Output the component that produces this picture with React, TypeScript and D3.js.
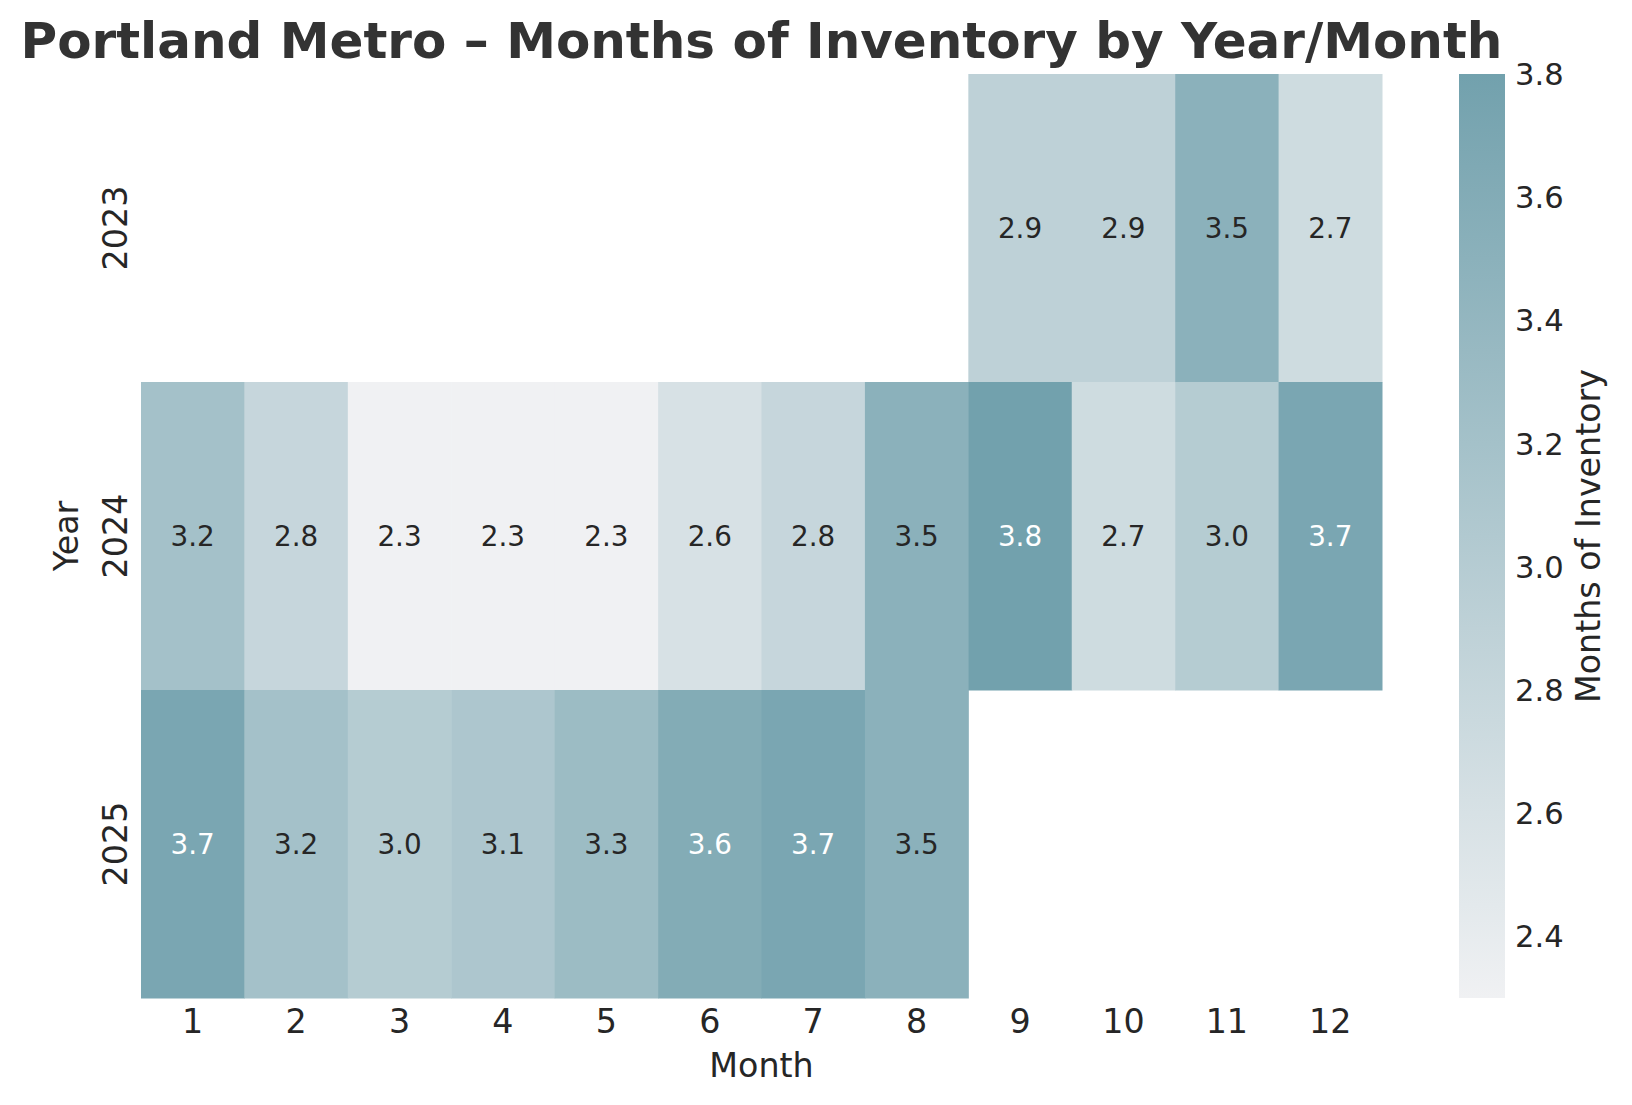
import { useRef, useEffect } from 'react';
import * as d3 from 'd3';

const months: number[] = [1, 2, 3, 4, 5, 6, 7, 8, 9, 10, 11, 12];
const years: string[] = ['2023', '2024', '2025'];

// months of inventory per year, null = no data
const values2023: (number | null)[] = [null, null, null, null, null, null, null, null, 2.9, 2.9, 3.5, 2.7];
const values2024: (number | null)[] = [3.2, 2.8, 2.3, 2.3, 2.3, 2.6, 2.8, 3.5, 3.8, 2.7, 3.0, 3.7];
const values2025: (number | null)[] = [3.7, 3.2, 3.0, 3.1, 3.3, 3.6, 3.7, 3.5, null, null, null, null];

const colorbarTicks: number[] = [2.4, 2.6, 2.8, 3.0, 3.2, 3.4, 3.6, 3.8];

export default function App() {
  const chartRef = useRef<SVGSVGElement | null>(null);

  useEffect(() => {
    if (!chartRef.current) return;
    document.body.style.margin = '0';

    const width = 1632;
    const height = 1105;
    const left = 141;
    const right = 1382;
    const top = 74;
    const bottom = 998;
    const font = 'DejaVu Sans, sans-serif';
    const ink = '#262626';

    const rows = [values2023, values2024, values2025];

    const svg = d3.select(chartRef.current)
      .attr('width', width)
      .attr('height', height);
    svg.selectAll('*').remove();

    const x = d3.scaleBand<number>().domain(months).range([left, right]);
    const y = d3.scaleBand<string>().domain(years).range([top, bottom]);

    const vmin = 2.3;
    const vmax = 3.8;
    const color = d3.scaleLinear<string>()
      .domain([vmin, vmax])
      .range(['#f0f1f3', '#72a1ad'])
      .interpolate(d3.interpolateRgb);

    const cells: { year: string; month: number; v: number }[] = [];
    rows.forEach((r, i) => {
      r.forEach((v, j) => {
        if (v !== null) cells.push({ year: years[i], month: months[j], v });
      });
    });

    svg.append('g')
      .selectAll('rect')
      .data(cells)
      .enter()
      .append('rect')
      .attr('x', (d) => x(d.month) || 0)
      .attr('y', (d) => y(d.year) || 0)
      .attr('width', x.bandwidth() + 0.5)
      .attr('height', y.bandwidth() + 0.5)
      .attr('fill', (d) => color(d.v));

    svg.append('g')
      .selectAll('text')
      .data(cells)
      .enter()
      .append('text')
      .text((d) => d.v.toFixed(1))
      .attr('x', (d) => (x(d.month) || 0) + x.bandwidth() / 2)
      .attr('y', (d) => (y(d.year) || 0) + y.bandwidth() / 2)
      .attr('dy', '0.36em')
      .attr('text-anchor', 'middle')
      .attr('font-family', font)
      .attr('font-size', '27.8px')
      .attr('fill', (d) => (d.v >= 3.6 ? '#ffffff' : ink));

    // x tick labels
    svg.append('g')
      .selectAll('text')
      .data(months)
      .enter()
      .append('text')
      .text((d) => String(d))
      .attr('x', (d) => (x(d) || 0) + x.bandwidth() / 2)
      .attr('y', 1033)
      .attr('text-anchor', 'middle')
      .attr('font-family', font)
      .attr('font-size', '33.3px')
      .attr('fill', ink);

    // y tick labels (rotated)
    svg.append('g')
      .selectAll('text')
      .data(years)
      .enter()
      .append('text')
      .text((d) => d)
      .attr('transform', (d) => `translate(127,${(y(d) || 0) + y.bandwidth() / 2}) rotate(-90)`)
      .attr('text-anchor', 'middle')
      .attr('font-family', font)
      .attr('font-size', '33.3px')
      .attr('fill', ink);

    svg.append('text')
      .text('Month')
      .attr('x', (left + right) / 2)
      .attr('y', 1077)
      .attr('text-anchor', 'middle')
      .attr('font-family', font)
      .attr('font-size', '33.3px')
      .attr('fill', ink);

    svg.append('text')
      .text('Year')
      .attr('transform', `translate(78,${(top + bottom) / 2}) rotate(-90)`)
      .attr('text-anchor', 'middle')
      .attr('font-family', font)
      .attr('font-size', '33.3px')
      .attr('fill', ink);

    svg.append('text')
      .text('Portland Metro – Months of Inventory by Year/Month')
      .attr('x', (left + right) / 2)
      .attr('y', 58)
      .attr('text-anchor', 'middle')
      .attr('font-family', font)
      .attr('font-weight', 'bold')
      .attr('font-size', '50px')
      .attr('fill', '#333333');

    // colorbar
    const cbX = 1459;
    const cbW = 46;
    const cbScale = d3.scaleLinear().domain([vmin, vmax]).range([bottom, top]);
    const grad = svg.append('defs')
      .append('linearGradient')
      .attr('id', 'cbgrad')
      .attr('x1', 0).attr('y1', 1).attr('x2', 0).attr('y2', 0);
    d3.range(0, 1.0001, 0.1).forEach((t) => {
      grad.append('stop')
        .attr('offset', t)
        .attr('stop-color', color(vmin + t * (vmax - vmin)));
    });
    svg.append('rect')
      .attr('x', cbX)
      .attr('y', top)
      .attr('width', cbW)
      .attr('height', bottom - top)
      .attr('fill', 'url(#cbgrad)');

    svg.append('g')
      .selectAll('text')
      .data(colorbarTicks)
      .enter()
      .append('text')
      .text((d) => d.toFixed(1))
      .attr('x', 1515)
      .attr('y', (d) => cbScale(d))
      .attr('dy', '0.36em')
      .attr('font-family', font)
      .attr('font-size', '30.6px')
      .attr('fill', ink);

    svg.append('text')
      .text('Months of Inventory')
      .attr('transform', `translate(1600,${(top + bottom) / 2}) rotate(-90)`)
      .attr('text-anchor', 'middle')
      .attr('font-family', font)
      .attr('font-size', '33.3px')
      .attr('fill', ink);
  }, []);

  return (
    <div>
      <svg ref={chartRef} style={{ display: 'block' }}></svg>
    </div>
  );
}
